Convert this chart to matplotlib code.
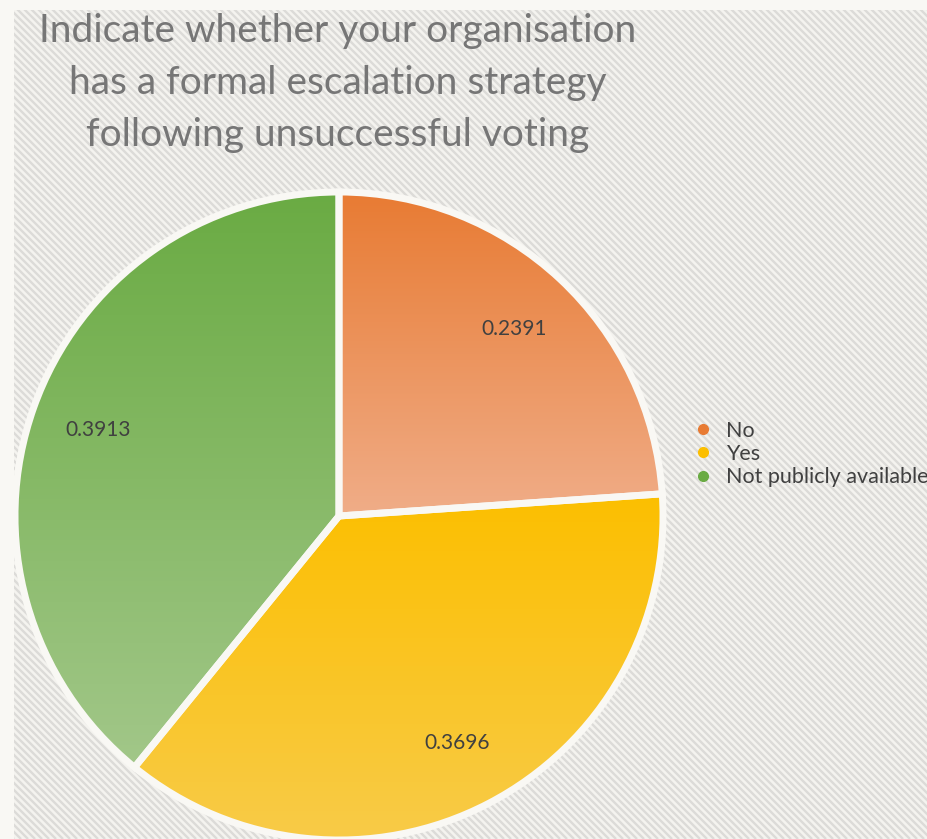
import matplotlib.pyplot as plt
import numpy as np
from matplotlib.colors import LinearSegmentedColormap
from matplotlib.patches import Rectangle

categories = ['No', 'Yes', 'Not publicly available']
values = [0.2391, 0.3696, 0.3913]
top_colors = ['#e87b33', '#fcbf00', '#6aab43']
bottom_colors = ['#f0ad88', '#f8cb48', '#a2c789']
title = 'Indicate whether your organisation\nhas a formal escalation strategy\nfollowing unsuccessful voting'

W, H = 927, 839
fig = plt.figure(figsize=(W / 100, H / 100), dpi=100, facecolor='#f9f8f4')
ax = fig.add_axes([0, 0, 1, 1])

# striped panel behind the chart
panel = Rectangle((14, -5), W, H - 10 + 5, facecolor='#f4f3ef', edgecolor='none', zorder=0)
ax.add_patch(panel)
for c in np.arange(-H, W + H, 7):
    ln, = ax.plot([c, c + H], [H, 0], color='#dcdbd8', lw=1.7, zorder=0.5,
                  solid_capstyle='butt')
    ln.set_clip_path(panel)

cx, cy, r = 339, H - 516, 324
wedges, texts, autotexts = ax.pie(
    values, center=(cx, cy), radius=r, startangle=90, counterclock=False,
    autopct=lambda p: f'{p / 100:.4f}', pctdistance=0.79,
    wedgeprops=dict(edgecolor='none'), frame=True,
    textprops=dict(color='#404040', fontsize=15, family='Lato'))
ax.set_xlim(0, W)
ax.set_ylim(0, H)
ax.set_aspect('equal')
ax.axis('off')

# vertical gradient inside each slice, darker at the top
grad = np.linspace(0, 1, 256).reshape(-1, 1)
inv = ax.transData.inverted()
for w, c0, c1 in zip(wedges, top_colors, bottom_colors):
    w.set_facecolor('none')
    bb = w.get_path().get_extents(w.get_transform())
    (x0, y0), (x1, y1) = inv.transform([[bb.x0, bb.y0], [bb.x1, bb.y1]])
    cmap = LinearSegmentedColormap.from_list('g', [c0, c1])
    im = ax.imshow(grad, cmap=cmap, extent=(x0, x1, y0, y1), origin='upper',
                   aspect='auto', zorder=1, interpolation='bilinear')
    im.set_clip_path(w)
    w.set_edgecolor('#f9f8f4')
    w.set_linewidth(5)
    w.set_zorder(2)
for t in autotexts:
    t.set_zorder(3)

ax.set_xlim(0, W)
ax.set_ylim(0, H)

fig.text(338 / W, 1 - 83 / H, title, ha='center', va='center', fontsize=28,
         color='#767676', family='Lato', linespacing=1.55)

handles = [plt.Line2D([], [], marker='o', ls='', color=c, markersize=7)
           for c in top_colors]
fig.legend(handles, categories, loc='center left', bbox_to_anchor=(681 / W, 1 - 454 / H),
           frameon=False, handletextpad=0.5, labelspacing=0.15, borderaxespad=0,
           handlelength=1.2, prop=dict(family='Lato', size=15.5),
           labelcolor='#404040')

fig.savefig('out.png', dpi=100, facecolor=fig.get_facecolor())
